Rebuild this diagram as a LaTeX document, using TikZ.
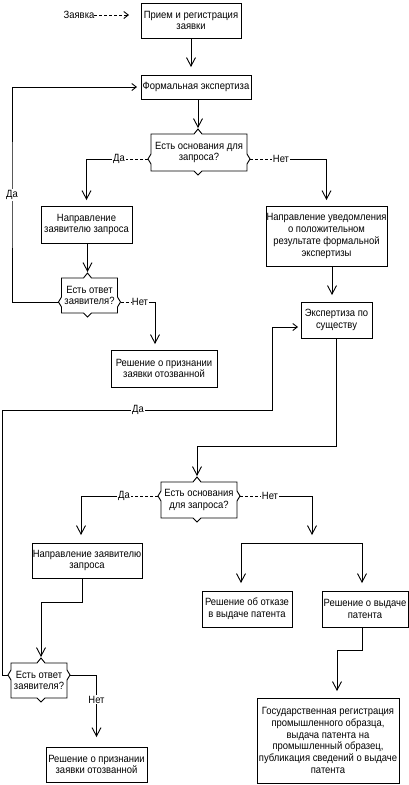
\documentclass[tikz,border=0pt]{standalone}
\usepackage{fontspec}
\setmainfont[FakeStretch=0.9]{Liberation Sans}
\usetikzlibrary{arrows.meta,calc}
\tikzset{
 ln/.style={line width=0.9pt},
 txt/.style={font=\fontsize{10.5}{11.8}\selectfont},
 box/.style={txt, draw, line width=0.9pt, inner sep=0.5pt, outer sep=0pt, align=center},
 dtext/.style={txt, inner sep=0pt, outer sep=0pt, align=center},
 lab/.style={txt, fill=white, inner sep=1pt, outer sep=0pt},
 arr/.style={ln, -{Straight Barb[length=8.5pt,width=9pt]}},
 arrh/.style={ln, -{Straight Barb[length=4.5pt,width=7pt]}},
 dsh/.style={ln, dash pattern=on 3pt off 2pt},
}
% name, cx, cy, w, h, notch y offset, top notch x offset, text
\newcommand{\mkdecision}[8]{%
  \node[dtext, minimum width=#4pt, minimum height=#5pt] (#1) at (#2,#3) {#8};
  \begin{scope}[shift={(#2,#3)}]
   \pgfmathsetmacro\dhw{#4/2}\pgfmathsetmacro\dhh{#5/2}
   \draw[ln] ({-\dhw},{-\dhh}) -- ({#7-4},{-\dhh}) -- (#7,{-\dhh-5}) -- ({#7+4},{-\dhh})
     -- (\dhw,{-\dhh}) -- (\dhw,{#6-5}) -- ({\dhw+3},#6) -- (\dhw,{#6+5})
     -- (\dhw,\dhh) -- ({#7+4},\dhh) -- (#7,{\dhh+4}) -- ({#7-4},\dhh)
     -- ({-\dhw},\dhh) -- ({-\dhw},{#6+5}) -- ({-\dhw-3},#6) -- ({-\dhw},{#6-5}) -- cycle;
  \end{scope}
  \coordinate (#1-L) at ({#2-#4/2-3},{#3+#6});
  \coordinate (#1-R) at ({#2+#4/2+3},{#3+#6});
  \coordinate (#1-T) at ({#2+#7},{#3-#5/2-5});
}
\begin{document}
\begin{tikzpicture}[x=1pt,y=-1pt]
\useasboundingbox (0,0) rectangle (409,785);

% nodes
\node[box, minimum width=100pt, minimum height=35pt] (b1) at (191,20.5) {Прием и регистрация\\заявки};
\node[dtext] (zv) at (79,15) {Заявка};
\node[box, minimum width=110pt, minimum height=24pt] (b2) at (196,87) {Формальная экспертиза};
\mkdecision{d1}{199}{152.5}{96}{37}{6.5}{-1}{Есть основания для\\запроса?}
\node[box, minimum width=91pt, minimum height=37pt] (b3) at (86.5,224.5) {Направление\\заявителю запроса};
\node[box, minimum width=121pt, minimum height=60pt] (b4) at (326.5,236) {Направление уведомления\\о положительном\\результате формальной\\экспертизы};
\mkdecision{d2}{89.5}{295.5}{56}{35}{6.5}{-2}{Есть ответ\\заявителя?}
\node[box, minimum width=106pt, minimum height=37pt] (b5) at (164,368.5) {Решение о признании\\заявки отозванной};
\node[box, minimum width=71pt, minimum height=36pt] (b6) at (336.5,320) {Экспертиза по\\существу};
\mkdecision{d3}{199}{500}{76}{36}{-4}{-2}{Есть основания\\для запроса?}
\node[box, minimum width=110pt, minimum height=35pt] (b7) at (87,560.5) {Направление заявителю\\запроса};
\node[box, minimum width=90pt, minimum height=36pt] (b8) at (247,609) {Решение об отказе\\в выдаче патента};
\node[box, minimum width=86pt, minimum height=36pt] (b9) at (365,609) {Решение о выдаче\\патента};
\mkdecision{d4}{39}{680.5}{56}{35}{-5.5}{2}{Есть ответ\\заявителя?}
\node[box, minimum width=101pt, minimum height=35pt] (b10) at (96.5,764.5) {Решение о признании\\заявки отозванной};
\node[box, minimum width=142pt, minimum height=85pt] (b11) at (328,740.5) {Государственная регистрация\\промышленного образца,\\выдача патента на\\промышленный образец,\\публикация сведений о выдаче\\патента};

% connectors
\draw[dsh, -{Straight Barb[length=4.5pt,width=7pt]}, shorten >=12pt] (zv.east) -- (zv.east -| b1.west);
\draw[arr, shorten >=8pt] (b1.south) -- (b1.south |- b2.north);

\coordinate (lx1) at (12,195);
\draw[arrh, shorten >=4pt] (d2-L) -| (lx1) |- (b2.west);
\node[lab] at (lx1) {Да};

\draw[arr, shorten >=1pt] (b2.south -| d1-T) -- (d1-T);

\node[lab] (l1) at (119,159) {Да};
\draw[dsh] (d1-L) -- (l1.east);
\draw[arr, shorten >=6pt] (l1.west) -| (b3.north);

\node[lab] (l2) at (281,159) {Нет};
\draw[dsh] (d1-R) -- (l2.west);
\draw[arr, shorten >=6pt] (l2.east) -| (b4.north);

\draw[arr, shorten >=1pt] (b3.south -| d2-T) -- (d2-T);

\node[lab] (l3) at (140,302) {Нет};
\draw[dsh] (d2-R) -- (l3.west);
\draw[arr, shorten >=6pt] (l3.east) -| ([xshift=-9pt]b5.north);

\draw[arr, shorten >=7pt] ([xshift=5.5pt]b4.south) -- ([xshift=-4.5pt]b6.north);

\coordinate (c9a) at (2,410);
\coordinate (c9b) at (272,410);
\draw[arrh, shorten >=3pt] (d4-L) -| (c9a) -- (c9b) |- ([yshift=-7pt]b6.west);
\node[lab] at (138,410) {Да};

\coordinate (c10) at (197,446);
\draw[arr, shorten >=1pt] (b6.south) |- (c10) -- (d3-T);

\node[lab] (l4) at (124,496) {Да};
\draw[dsh] (d3-L) -- (l4.east);
\draw[arr, shorten >=8pt] (l4.west) -| ([xshift=-6pt]b7.north);

\node[lab] (l5) at (270,496) {Нет};
\draw[dsh] (d3-R) -- (l5.west);
\coordinate (sp) at (312,543);
\draw[arr, shorten >=8pt] (l5.east) -| (sp);
\coordinate (sL) at (241,543);
\coordinate (sR) at (362,543);
\draw[ln] (sL) -- (sR);
\draw[arr, shorten >=8pt] (sL) -- (sL |- b8.north);
\draw[arr, shorten >=8pt] (sR) -- (sR |- b9.north);

\coordinate (c13) at (41,602);
\draw[arr, shorten >=1pt] ([xshift=-5pt]b7.south) |- (c13) -- (d4-T);

\draw[arr, shorten >=10pt] (d4-R) -| node[lab, pos=0.67]{Нет} (b10.north);

\coordinate (c15) at (337,650);
\draw[arr, shorten >=7pt] ([xshift=-3pt]b9.south) |- (c15) -- (c15 |- b11.north);
\end{tikzpicture}
\end{document}
